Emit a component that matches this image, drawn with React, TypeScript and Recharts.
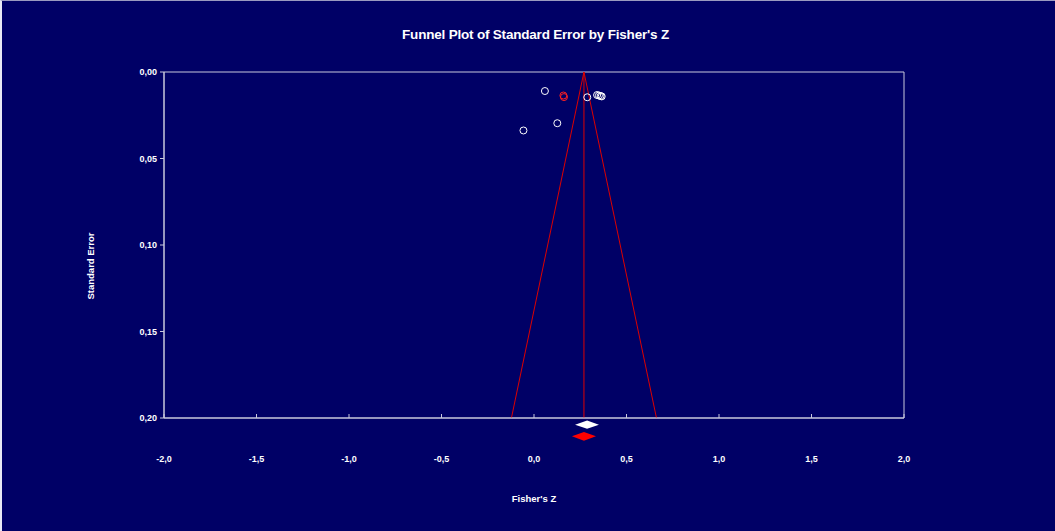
import React from 'react';
import {
  ComposedChart,
  Scatter,
  Line,
  Area,
  XAxis,
  YAxis,
  ReferenceArea,
} from 'recharts';

// ---------- data ----------
const observedZ = [0.059, 0.126, -0.057, 0.288, 0.341, 0.351, 0.36, 0.366];
const observedSE = [0.011, 0.0296, 0.0338, 0.0146, 0.0133, 0.0136, 0.0139, 0.0141];
const imputedZ = [0.159, 0.162];
const imputedSE = [0.0136, 0.0145];

const pooledZ = 0.27;
const maxSE = 0.2;

// summary diamonds: [lower, point, upper]
const observedDiamond = [0.222, 0.287, 0.351];
const adjustedDiamond = [0.205, 0.27, 0.335];

const xTicks = [-2, -1.5, -1, -0.5, 0, 0.5, 1, 1.5, 2];
const yTicks = [0, 0.05, 0.1, 0.15, 0.2];

const title = "Funnel Plot of Standard Error by Fisher's Z";
const xTitle = "Fisher's Z";
const yTitle = 'Standard Error';

// ---------- derived tables ----------
const observedPts = observedZ.map((x, i) => ({ x, y: observedSE[i] }));
const imputedPts = imputedZ.map((x, i) => ({ x, y: imputedSE[i] }));
const funnel = [
  { x: pooledZ - 1.96 * maxSE, y: maxSE },
  { x: pooledZ, y: 0 },
  { x: pooledZ + 1.96 * maxSE, y: maxSE },
];
const meanLine = [
  { x: pooledZ, y: 0 },
  { x: pooledZ, y: maxSE },
];
const diamondRows = (d: number[], row: number, h: number) => [
  { x: d[0], r: [row, row] },
  { x: d[1], r: [row - h, row + h] },
  { x: d[2], r: [row, row] },
];
const whiteDiamond = diamondRows(observedDiamond, 1, 0.35);
const redDiamond = diamondRows(adjustedDiamond, 2, 0.37);

// ---------- styles ----------
const BG = '#000066';
const FRAME = '#c8c8dc';
const FONT = '"Liberation Sans", Arial, sans-serif';
const fmt1 = (v: number) => v.toFixed(1).replace('.', ',');
const fmt2 = (v: number) => v.toFixed(2).replace('.', ',');

const XTick = (props: any) => {
  const { x, y, payload } = props;
  return (
    <g>
      <line x1={x} x2={x} y1={y} y2={y - 4} stroke={FRAME} strokeWidth={1} />
      <text
        x={x}
        y={y + 44}
        textAnchor="middle"
        fill="#ffffff"
        fontSize={9}
        fontWeight="bold"
        fontFamily={FONT}
      >
        {fmt1(payload.value)}
      </text>
    </g>
  );
};

const OpenCircle = (color: string) => (props: any) => {
  const { cx, cy } = props;
  return <circle cx={cx} cy={cy} r={3.5} fill="none" stroke={color} strokeWidth={1} />;
};

const YLabel = (props: any) => {
  const { viewBox } = props;
  const x = viewBox.x + 90;
  const y = viewBox.y + viewBox.height / 2 + 21;
  return (
    <text
      x={x}
      y={y}
      transform={`rotate(-90, ${x}, ${y})`}
      textAnchor="middle"
      dominantBaseline="central"
      fill="#ffffff"
      fontSize={9.5}
      fontWeight="bold"
      fontFamily={FONT}
    >
      {yTitle}
    </text>
  );
};

export default function App() {
  return (
    <div
      style={{
        position: 'absolute',
        left: 0,
        top: 0,
        width: 1055,
        height: 531,
        background: BG,
        overflow: 'hidden',
        fontFamily: FONT,
      }}
    >
      <div
        style={{
          position: 'absolute',
          left: 0,
          top: 0,
          width: 1055,
          height: 531,
          boxSizing: 'border-box',
          borderLeft: '2px solid #e8e8f4',
          borderTop: '1px solid #9a9ac0',
          pointerEvents: 'none',
          zIndex: 3,
        }}
      />
      <div
        style={{
          position: 'absolute',
          left: 0,
          top: 26,
          width: 1071,
          textAlign: 'center',
          color: '#ffffff',
          fontSize: 13.5,
          fontWeight: 'bold',
          fontFamily: FONT,
          lineHeight: '17px',
          letterSpacing: '-0.2px',
        }}
      >
        {title}
      </div>
      <div style={{ position: 'absolute', left: 0, top: 0 }}>
        <ComposedChart
          width={1055}
          height={531}
          margin={{ top: 72, right: 151, left: 0, bottom: 0 }}
        >
          <XAxis
            type="number"
            dataKey="x"
            domain={[-2, 2]}
            ticks={xTicks}
            interval={0}
            height={113}
            tickSize={0}
            tickMargin={0}
            tickLine={false}
            tick={<XTick />}
            axisLine={{ stroke: FRAME, strokeWidth: 1 }}
            label={{
              value: xTitle,
              position: 'insideBottom',
              offset: 29,
              fill: '#ffffff',
              fontSize: 9.5,
              fontWeight: 'bold',
              fontFamily: FONT,
            }}
          />
          <YAxis
            type="number"
            dataKey="y"
            domain={[0, 0.2]}
            reversed
            ticks={yTicks}
            interval={0}
            width={164}
            tickSize={4}
            tickMargin={3}
            tickFormatter={fmt2}
            tick={{ fill: '#ffffff', fontSize: 9, fontWeight: 'bold', fontFamily: FONT }}
            tickLine={{ stroke: FRAME }}
            axisLine={{ stroke: FRAME, strokeWidth: 1 }}
            label={<YLabel />}
          />
          <ReferenceArea
            x1={-2}
            x2={2}
            y1={0}
            y2={0.2}
            fill="none"
            fillOpacity={0}
            stroke={FRAME}
            strokeWidth={1}
          />
          <Line
            data={funnel}
            dataKey="y"
            stroke="#dd0000"
            strokeWidth={1}
            dot={false}
            activeDot={false}
            isAnimationActive={false}
          />
          <Line
            data={meanLine}
            dataKey="y"
            stroke="#dd0000"
            strokeWidth={1}
            dot={false}
            activeDot={false}
            isAnimationActive={false}
          />
          <Scatter
            data={imputedPts}
            dataKey="y"
            shape={OpenCircle('#ff2020')}
            isAnimationActive={false}
          />
          <Scatter
            data={observedPts}
            dataKey="y"
            shape={OpenCircle('#ffffff')}
            isAnimationActive={false}
          />
        </ComposedChart>
      </div>
      <div style={{ position: 'absolute', left: 0, top: 413 }}>
        <ComposedChart
          width={1055}
          height={35}
          margin={{ top: 0, right: 151, left: 164, bottom: 0 }}
        >
          <XAxis type="number" dataKey="x" domain={[-2, 2]} hide />
          <YAxis type="number" domain={[0, 3]} reversed hide />
          <Area
            data={whiteDiamond}
            dataKey="r"
            type="linear"
            stroke="none"
            fill="#ffffff"
            fillOpacity={1}
            dot={false}
            activeDot={false}
            isAnimationActive={false}
          />
          <Area
            data={redDiamond}
            dataKey="r"
            type="linear"
            stroke="none"
            fill="#ff0000"
            fillOpacity={1}
            dot={false}
            activeDot={false}
            isAnimationActive={false}
          />
        </ComposedChart>
      </div>
    </div>
  );
}
